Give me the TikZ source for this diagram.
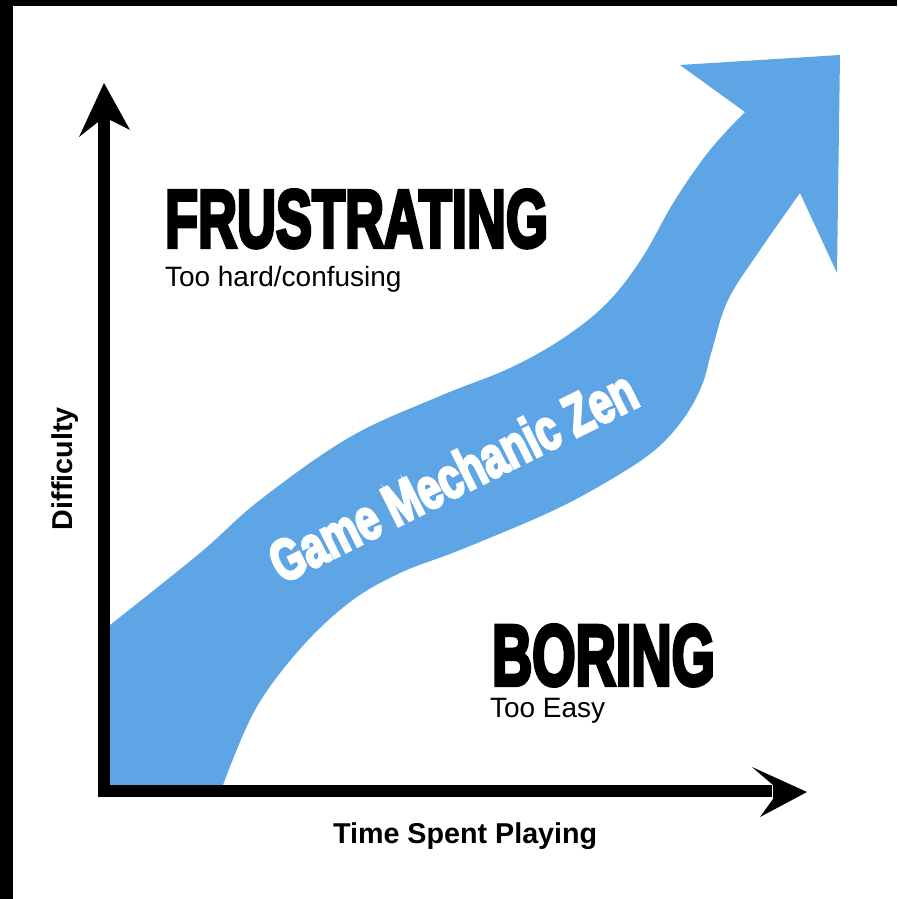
\documentclass[tikz,border=0pt]{standalone}
\usepackage{fontspec}
\usepackage{graphicx}
\setmainfont{Liberation Sans}
\newfontfamily\heavyfont{Liberation Sans}[BoldFeatures={FakeBold=5}]
\definecolor{zenblue}{RGB}{93,165,229}
\tikzset{
  lbl/.style={inner sep=0pt, outer sep=0pt, anchor=base west},
  subtxt/.style={lbl, font=\fontsize{28}{32}\selectfont},
  axtxt/.style={lbl, font=\fontsize{28.7}{32}\selectfont\bfseries},
  axisline/.style={line width=12pt, black}
}
\begin{document}
\begin{tikzpicture}[x=1pt,y=-1pt]
\useasboundingbox (0,0) rectangle (897,899);
\fill[black] (0,0) rectangle (897,899);
\fill[white] (13,6) rectangle (897,899);
% blue band
\fill[zenblue] (104,632) -- plot[smooth,tension=0.6] coordinates {(110,625) (200,553) (260,500) (350,437) (440,396) (510,368) (565,337) (608,302) (642,258) (675,200) (710,150) (745,112)}
  -- (680,65) -- (840,55) -- (837,273)
  -- plot[smooth,tension=0.6] coordinates {(800,193) (760,250) (728,300) (712,350) (702,385) (684,418) (655,450) (610,480) (550,512) (460,550) (400,573) (350,602) (300,649) (255,710) (223,785)}
  -- (223,795) -- (104,795) -- cycle;
% axes
\coordinate (origin) at (104,797);
\coordinate (ytip) at (104,118);
\coordinate (xstart) at (98,791);
\coordinate (xtip) at (772,791);
\draw[axisline] (origin) -- (ytip);
\draw[axisline] (xstart) -- (xtip);
\fill[black] (104,83) -- (130,130) -- (110,120) -- (98,122) -- (79,137) -- cycle;
\fill[black] (807,792) -- (760,817) -- (773,799) -- (773,785) -- (752,767) -- cycle;
% labels
\node[lbl] (frus) at (165,247) {\resizebox{383pt}{57pt}{\fontsize{80}{90}\heavyfont\bfseries FRUSTRATING}};
\node[subtxt] (hard) at (165,286) {Too hard/confusing};
\node[lbl] (bor) at (492,685) {\resizebox{223pt}{60pt}{\fontsize{80}{90}\heavyfont\bfseries BORING}};
\node[subtxt] (easy) at (490,717) {Too Easy};
\node[axtxt] (time) at (333,843) {Time Spent Playing};
\node[axtxt, rotate=90] (diff) at (72,530) {Difficulty};
\node[lbl, rotate=26.5, text=white] (zen) at (282,584) {\resizebox{402pt}{42pt}{\fontsize{50}{60}\heavyfont\bfseries Game Mechanic Zen}};
\end{tikzpicture}
\end{document}
